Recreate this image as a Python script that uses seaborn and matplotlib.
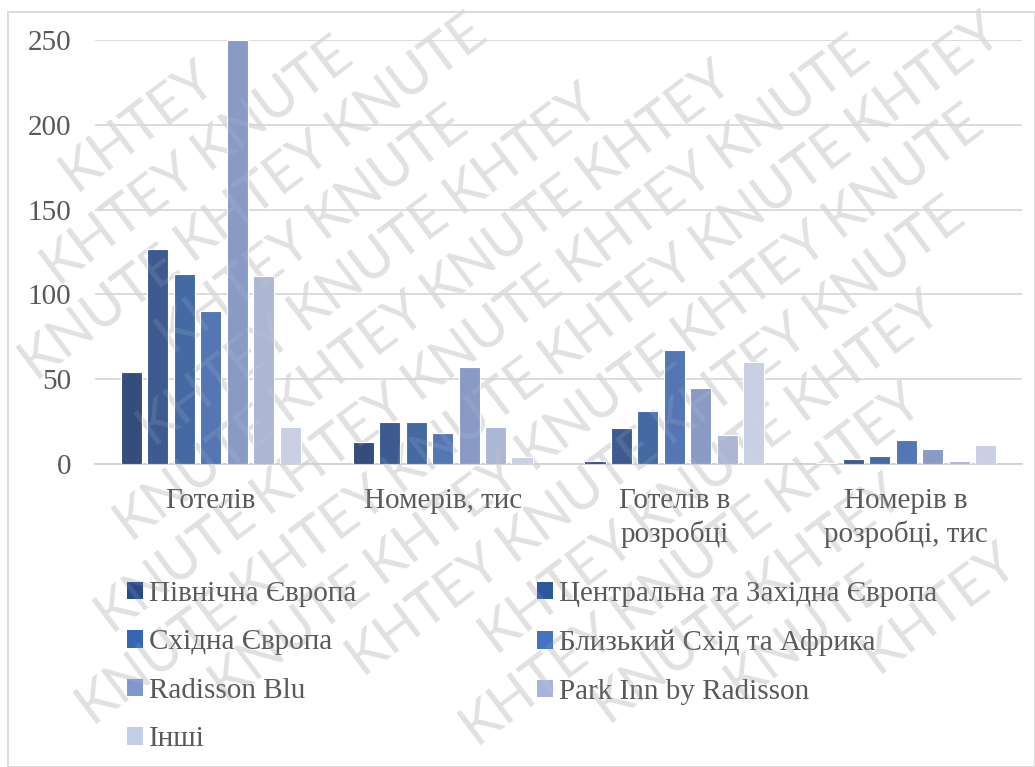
import numpy as np
import pandas as pd
import seaborn as sns
import matplotlib
matplotlib.use("Agg")
import matplotlib.pyplot as plt
from matplotlib.patches import Rectangle, Patch
from matplotlib import font_manager as fm
from matplotlib.textpath import TextPath

# ---- data ----
categories = ["Готелів", "Номерів, тис", "Готелів в\nрозробці", "Номерів в\nрозробці, тис"]
series = ["Північна Європа", "Центральна та Західна Європа", "Східна Європа",
          "Близький Схід та Африка", "Radisson Blu", "Park Inn by Radisson", "Інші"]
north_europe = [54, 13, 2, 0.5]
central_west_europe = [127, 25, 21, 3]
east_europe = [112, 25, 31, 5]
middle_east_africa = [90, 18, 67, 14]
radisson_blu = [250, 57, 45, 9]
park_inn = [111, 22, 17, 2]
others = [22, 4, 60, 11]
y_ticks = [0, 50, 100, 150, 200, 250]

values = [north_europe, central_west_europe, east_europe, middle_east_africa,
          radisson_blu, park_inn, others]
colors = ["#2A4A86", "#2F579E", "#3566B3", "#4472C4", "#7F96CF", "#A6B4DA", "#C5CEE8"]

rows = []
for s, vals in zip(series, values):
    for c, v in zip(categories, vals):
        rows.append({"cat": c, "series": s, "value": v})
df = pd.DataFrame(rows)

sns.set_style("white")
plt.rcParams["font.family"] = ["Liberation Serif", "DejaVu Serif", "DejaVu Sans"]
text_color = "#595959"

W, H = 1035, 767
fig = plt.figure(figsize=(W / 100, H / 100), dpi=100)
fig.patch.set_facecolor("white")
ax = fig.add_axes([95 / W, 1 - 464 / H, (1022 - 95) / W, (464 - 40) / H])
ax.patch.set_alpha(0)

sns.barplot(data=df, x="cat", y="value", hue="series", order=categories,
            hue_order=series, palette=colors, width=0.8, gap=0.2,
            edgecolor="white", linewidth=0.8, ax=ax, legend=False, zorder=3)

ax.set_ylim(0, 250)
ax.set_xlim(-0.5, 3.5)
ax.set_yticks(y_ticks)
ax.set_yticklabels([str(t) for t in y_ticks])
ax.yaxis.grid(True, color="#D9D9D9", linewidth=1.3, zorder=0)
ax.set_axisbelow(True)
ax.set_xlabel("")
ax.set_ylabel("")
for side in ["top", "right", "left"]:
    ax.spines[side].set_visible(False)
ax.spines["bottom"].set_color("#D0D0D0")
ax.spines["bottom"].set_linewidth(1.3)
ax.tick_params(axis="both", length=0, colors=text_color, labelsize=21)
ax.tick_params(axis="y", pad=17)
ax.tick_params(axis="x", pad=17)
for lbl in ax.get_xticklabels():
    lbl.set_linespacing(1.3)

# legend: two single-column legends, row-major order like the reference
handles = [Patch(facecolor=c, edgecolor="none") for c in colors]
common = dict(loc="upper left", frameon=False, fontsize=21, labelcolor=text_color,
              handlelength=0.55, handleheight=0.55, handletextpad=0.2,
              labelspacing=0.77, borderpad=0, borderaxespad=0)
left_idx = [0, 2, 4, 6]
right_idx = [1, 3, 5]
leg1 = fig.legend([handles[i] for i in left_idx], [series[i] for i in left_idx],
                  bbox_to_anchor=(127 / W, 1 - 581 / H), **common)
leg2 = fig.legend([handles[i] for i in right_idx], [series[i] for i in right_idx],
                  bbox_to_anchor=(537 / W, 1 - 581 / H), **common)

# outer border
fig.patches.append(Rectangle((8 / W, 0), (W - 8) / W, 1 - 12 / H,
                             transform=fig.transFigure, fill=False,
                             edgecolor="#D9D9D9", linewidth=1.3))

# watermark: individual words, only those fully inside the figure
ang = 37
d = np.array([np.cos(np.radians(ang)), np.sin(np.radians(ang))])
n = np.array([-d[1], d[0]])
fs_pt = 40
fs_px = fs_pt * 100 / 72
wm_prop = fm.FontProperties(family=["Lato", "DejaVu Sans"])
words = ["KHTEY", "KNUTE"]
wlen = {w: TextPath((0, 0), w, size=fs_px, prop=wm_prop).get_extents().width for w in words}
space = 0.3 * fs_px
cap = fs_px * 0.72
spacing = 62
origin = np.array([W / 2, H / 2])
for k in range(-16, 17):
    base = origin + k * spacing * n
    shift = (k * 0.37) % 1.0
    t = -1500 + shift * (wlen["KHTEY"] + space)
    i = 0
    while t < 1500:
        w = words[i % 2]
        L = wlen[w]
        c = base + (t + L / 2) * d
        corners = [c + a * L / 2 * d + b * cap / 2 * n for a in (-1, 1) for b in (-1, 1)]
        if all(2 <= p[0] <= W - 2 and 2 <= p[1] <= H - 2 for p in corners):
            fig.text(c[0], c[1], w, transform=None, rotation=ang,
                     rotation_mode="anchor", ha="center", va="center",
                     fontproperties=wm_prop, fontsize=fs_pt, color="#E3E3E3",
                     zorder=-5)
            fig.text(c[0], c[1], w, transform=None, rotation=ang,
                     rotation_mode="anchor", ha="center", va="center",
                     fontproperties=wm_prop, fontsize=fs_pt, color="#D8D8D8",
                     alpha=0.13, zorder=10)
        t += L + space
        i += 1

fig.savefig("out.png", dpi=100)
